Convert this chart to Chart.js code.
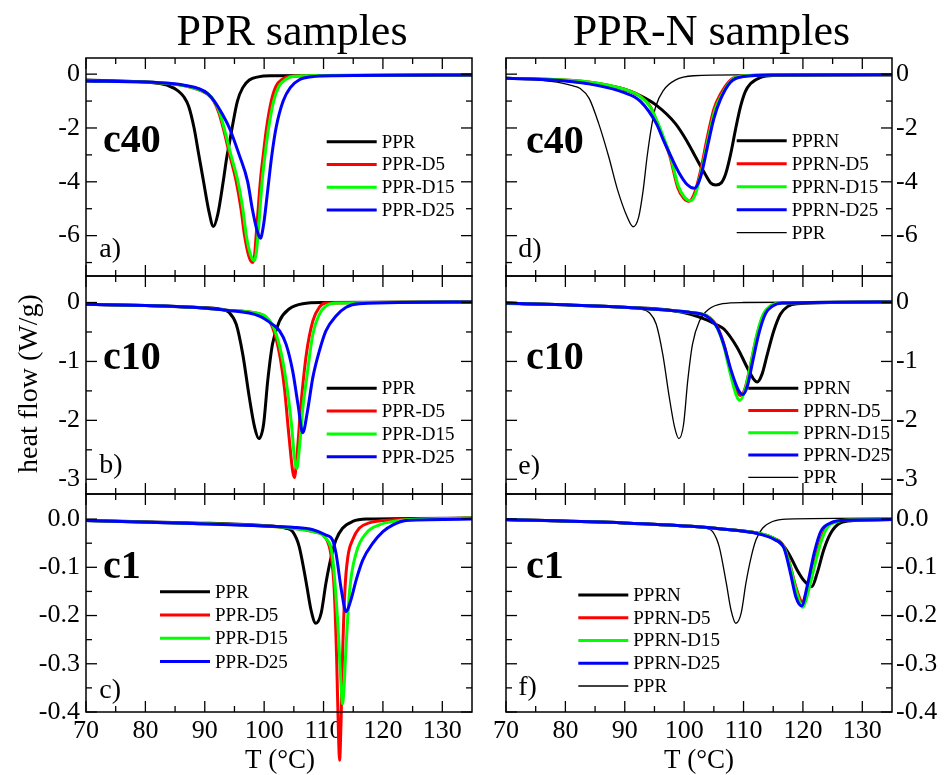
<!DOCTYPE html>
<html>
<head>
<meta charset="utf-8">
<script src="https://cdn.jsdelivr.net/npm/chart.js@4.4.0/dist/chart.umd.min.js"></script>
<style>
  body { margin: 0; background: #fff; }
  #wrap { position: relative; width: 948px; height: 775px; overflow: hidden; }
  #wrap canvas { position: absolute; left: 0; top: 0; }
</style>
</head>
<body>
<div id="wrap">
  <canvas id="pa" width="948" height="775"></canvas>
  <canvas id="pb" width="948" height="775"></canvas>
  <canvas id="pc" width="948" height="775"></canvas>
  <canvas id="pd" width="948" height="775"></canvas>
  <canvas id="pe" width="948" height="775"></canvas>
  <canvas id="pf" width="948" height="775"></canvas>
  <canvas id="txt" width="948" height="775"></canvas>
</div>
<script>
// ---- data (T in °C, heat flow in W/g) ----
const tempTicks = [70, 80, 90, 100, 110, 120, 130];
const tempMinor = [75, 85, 95, 105, 115, 125];

const c40Ticks = [0, -2, -4, -6];
const c40Minor = [-1, -3, -5, -7];
const c10Ticks = [0, -1, -2, -3];
const c10Minor = [-0.5, -1.5, -2.5];
const c1Ticks = [0, -0.1, -0.2, -0.3, -0.4];
const c1Minor = [-0.05, -0.15, -0.25, -0.35];

const pprLabels = ['PPR', 'PPR-D5', 'PPR-D15', 'PPR-D25'];
const pprnLabels = ['PPRN', 'PPRN-D5', 'PPRN-D15', 'PPRN-D25', 'PPR'];

// c40, PPR samples
const a_PPR = [[70,-0.22],[78,-0.27],[82,-0.34],[84,-0.44],[85.5,-0.62],[86.5,-0.85],[87.3,-1.2],[88.2,-2.0],[89,-3.0],[89.8,-4.0],[90.7,-5.1],[91.45,-5.66],[92.2,-5.2],[93.1,-4.0],[93.7,-3.1],[94.2,-2.5],[94.6,-2.0],[95.5,-1.0],[96.4,-0.5],[97.5,-0.22],[99,-0.1],[101,-0.06],[115,-0.05],[135,-0.03]];
const a_D5 = [[70,-0.25],[80,-0.29],[84,-0.35],[87,-0.45],[89,-0.58],[90.5,-0.75],[91.5,-1.0],[92.4,-1.45],[93.1,-2.0],[94.2,-3.0],[95.3,-4.0],[96.1,-5.0],[96.7,-6.0],[97.4,-6.75],[98.05,-7.0],[98.4,-6.7],[98.65,-6.0],[99.0,-5.0],[99.35,-4.0],[99.85,-3.0],[100.4,-2.0],[101.2,-1.0],[102,-0.45],[103,-0.2],[104.5,-0.08],[110,-0.05],[135,-0.03]];
const a_D15 = [[70,-0.25],[80,-0.29],[84,-0.35],[87,-0.45],[89,-0.57],[90.5,-0.73],[91.5,-0.97],[92.5,-1.42],[93.25,-2.0],[94.4,-3.0],[95.6,-4.0],[96.4,-5.0],[97.0,-6.0],[97.7,-6.7],[98.35,-6.93],[98.7,-6.6],[98.95,-6.0],[99.3,-5.0],[99.65,-4.0],[100.15,-3.0],[100.75,-2.0],[101.6,-1.0],[102.5,-0.45],[103.6,-0.2],[105,-0.08],[110,-0.05],[135,-0.03]];
const a_D25 = [[70,-0.25],[80,-0.29],[84,-0.34],[87,-0.43],[89,-0.54],[90.5,-0.72],[91.6,-1.0],[93,-1.5],[94.15,-2.0],[95.8,-3.0],[97.23,-4.0],[98.0,-5.0],[98.8,-5.8],[99.37,-6.1],[99.9,-5.6],[100.3,-4.9],[100.76,-4.0],[101.3,-3.0],[102,-2.0],[103.2,-1.0],[104.4,-0.5],[106,-0.2],[108,-0.1],[112,-0.06],[135,-0.03]];

// c40, PPR-N samples (thin PPR reference curve as drawn in panel d)
const d_PPRN = [[70,-0.15],[78.6,-0.22],[84.2,-0.35],[89.8,-0.55],[92.6,-0.8],[95.4,-1.17],[98.5,-1.83],[100.5,-2.5],[101.9,-3.07],[103.5,-3.7],[104.5,-4.05],[105.3,-4.12],[106.2,-4.05],[107,-3.7],[107.8,-3.0],[108.7,-2.0],[109.5,-1.2],[110.3,-0.65],[111.2,-0.35],[112.9,-0.12],[115,-0.05],[135,-0.02]];
const d_D5 = [[70,-0.15],[78,-0.2],[84.2,-0.3],[89.8,-0.55],[92.6,-0.82],[94.3,-1.2],[95.5,-1.83],[96.6,-2.45],[97.6,-3.05],[98.9,-4.2],[99.9,-4.6],[100.8,-4.72],[101.7,-4.45],[102.75,-3.6],[103.9,-2.35],[105,-1.3],[106.1,-0.75],[107.8,-0.22],[110,-0.06],[115,-0.03],[135,-0.02]];
const d_D15 = [[70,-0.15],[78,-0.2],[84.2,-0.3],[89.8,-0.55],[92.6,-0.83],[94.3,-1.22],[95.6,-1.83],[96.7,-2.45],[97.7,-3.05],[99.0,-4.15],[100.1,-4.58],[101.1,-4.7],[101.9,-4.45],[102.9,-3.6],[104.1,-2.35],[105.2,-1.32],[106.3,-0.78],[108.0,-0.22],[110.2,-0.06],[115,-0.03],[135,-0.02]];
const d_D25 = [[70,-0.15],[78,-0.22],[84.2,-0.37],[89.8,-0.68],[92.6,-1.0],[95.3,-1.83],[96.6,-2.5],[97.8,-3.07],[99.2,-3.69],[100.5,-4.1],[101.7,-4.24],[102.75,-3.83],[103.9,-2.72],[105,-1.65],[106.1,-0.95],[107.8,-0.3],[110,-0.09],[115,-0.03],[135,-0.02]];
const d_PPR = [[70,-0.15],[75,-0.2],[78.6,-0.3],[81,-0.42],[82.5,-0.53],[84,-0.9],[85.6,-1.83],[87.3,-3.07],[88.8,-4.31],[90.4,-5.3],[91.4,-5.67],[92.35,-5.3],[93.1,-4.31],[93.76,-3.07],[94.6,-1.83],[95.2,-1.21],[96.55,-0.59],[98.5,-0.22],[101.6,-0.06],[110,-0.03],[135,-0.02]];

// c10, PPR samples
const b_PPR = [[70,-0.03],[80,-0.05],[88,-0.08],[92.5,-0.11],[94.1,-0.17],[95.3,-0.37],[96.4,-0.88],[97.5,-1.61],[98.4,-2.12],[99.1,-2.31],[99.9,-2.07],[100.6,-1.33],[101.4,-0.71],[102.6,-0.31],[104.2,-0.11],[106.5,-0.02],[110,0],[135,0.01]];
const b_D5 = [[70,-0.03],[80,-0.05],[88,-0.08],[93.6,-0.13],[98.1,-0.17],[100.3,-0.25],[101.4,-0.42],[102.6,-0.88],[103.4,-1.44],[104.2,-2.29],[104.8,-2.86],[105.1,-2.97],[105.5,-2.63],[106.2,-1.73],[107.1,-0.88],[108.2,-0.31],[109.3,-0.08],[110.4,-0.01],[135,0.01]];
const b_D15 = [[70,-0.03],[80,-0.05],[88,-0.08],[93.6,-0.13],[98.1,-0.17],[100.3,-0.24],[101.4,-0.38],[102.6,-0.74],[103.7,-1.33],[104.6,-2.07],[105.1,-2.63],[105.5,-2.82],[105.9,-2.5],[106.5,-1.8],[107.1,-1.33],[108.2,-0.54],[109.3,-0.2],[110.4,-0.06],[112,-0.01],[135,0.01]];
const b_D25 = [[70,-0.03],[80,-0.05],[88,-0.08],[93.6,-0.13],[99.2,-0.23],[101.4,-0.37],[102.6,-0.48],[103.7,-0.71],[104.8,-1.16],[105.7,-1.73],[106.5,-2.21],[107.3,-1.84],[108.2,-1.27],[109.3,-0.82],[110.4,-0.48],[112.1,-0.23],[113.8,-0.08],[116,-0.02],[135,0.01]];

// c10, PPR-N samples
const e_PPRN = [[70,-0.01],[80,-0.04],[89.8,-0.08],[98.3,-0.14],[101.1,-0.2],[103.9,-0.3],[105.5,-0.38],[106.7,-0.45],[108.9,-0.76],[110.9,-1.16],[111.7,-1.3],[112.3,-1.35],[113.1,-1.22],[114,-0.88],[115.1,-0.48],[116.2,-0.2],[117.4,-0.07],[119,-0.02],[135,0.01]];
const e_D5 = [[70,-0.01],[80,-0.04],[89.8,-0.08],[98.3,-0.14],[101.1,-0.17],[103.9,-0.23],[105.6,-0.42],[106.7,-0.71],[107.8,-1.16],[108.9,-1.5],[109.5,-1.58],[110.3,-1.44],[111.2,-1.05],[112.3,-0.54],[113.4,-0.2],[114.6,-0.06],[116.2,-0.01],[135,0.01]];
const e_D15 = [[70,-0.01],[80,-0.04],[89.8,-0.08],[98.3,-0.14],[101.1,-0.17],[103.9,-0.23],[105.6,-0.44],[106.7,-0.75],[107.8,-1.22],[108.8,-1.58],[109.4,-1.66],[110.2,-1.5],[111.1,-1.1],[112.2,-0.56],[113.3,-0.2],[114.5,-0.06],[116.2,-0.01],[135,0.01]];
const e_D25 = [[70,-0.01],[80,-0.04],[89.8,-0.08],[98.3,-0.14],[101.1,-0.17],[103.9,-0.24],[105.6,-0.43],[106.7,-0.72],[107.9,-1.15],[109.1,-1.48],[109.9,-1.56],[110.7,-1.4],[111.5,-1.02],[112.6,-0.52],[113.7,-0.19],[114.9,-0.06],[116.5,-0.01],[135,0.01]];

// c1, PPR samples
const c_PPR = [[70,-0.003],[88,-0.008],[99.2,-0.013],[103.7,-0.019],[104.8,-0.026],[105.9,-0.057],[107.1,-0.133],[107.9,-0.189],[108.7,-0.216],[109.6,-0.195],[110.4,-0.133],[111.3,-0.078],[112.1,-0.043],[113.2,-0.019],[114.9,-0.005],[117.2,0],[135,0.002]];
const c_D5 = [[70,-0.003],[88,-0.009],[99.2,-0.014],[104.8,-0.019],[108.2,-0.026],[110.4,-0.04],[111.3,-0.078],[111.8,-0.147],[112.2,-0.286],[112.5,-0.438],[112.7,-0.5],[112.95,-0.42],[113.2,-0.286],[113.6,-0.147],[114.1,-0.078],[114.9,-0.043],[116,-0.019],[117.7,-0.008],[120,-0.003],[135,0.002]];
const c_D15 = [[70,-0.003],[88,-0.009],[99.2,-0.014],[104.8,-0.019],[108.2,-0.026],[110.4,-0.04],[111.5,-0.078],[112.4,-0.216],[113.0,-0.355],[113.2,-0.383],[113.45,-0.35],[113.7,-0.286],[114.4,-0.147],[115.5,-0.07],[117.2,-0.029],[119.4,-0.012],[121.7,-0.005],[124.5,-0.001],[135,0.002]];
const c_D25 = [[70,-0.003],[88,-0.009],[99.2,-0.014],[104.8,-0.017],[108.2,-0.022],[110.4,-0.033],[111.5,-0.043],[112.1,-0.071],[113,-0.147],[113.8,-0.192],[114.6,-0.168],[115.5,-0.126],[116.6,-0.085],[118.3,-0.05],[120,-0.026],[121.7,-0.012],[123.9,-0.003],[135,0]];

// c1, PPR-N samples
const f_PPRN = [[70,-0.001],[89.8,-0.008],[101.1,-0.015],[106.7,-0.021],[112.3,-0.029],[115.1,-0.04],[116.8,-0.057],[117.9,-0.078],[119,-0.105],[120.2,-0.128],[121.5,-0.14],[122.4,-0.112],[123.5,-0.064],[124.7,-0.029],[126.3,-0.008],[128.6,-0.003],[135,-0.001]];
const f_D5 = [[70,-0.001],[89.8,-0.008],[101.1,-0.015],[106.7,-0.021],[112.3,-0.029],[115.1,-0.04],[116.8,-0.057],[117.9,-0.098],[118.8,-0.14],[119.9,-0.171],[120.7,-0.147],[121.9,-0.092],[123,-0.043],[124.1,-0.015],[125.8,-0.005],[128,-0.002],[135,-0.001]];
const f_D15 = [[70,-0.001],[89.8,-0.008],[101.1,-0.015],[106.7,-0.021],[112.3,-0.029],[115.1,-0.04],[116.8,-0.058],[117.9,-0.1],[118.9,-0.15],[120.0,-0.183],[120.8,-0.155],[122.0,-0.095],[123.1,-0.045],[124.2,-0.016],[125.9,-0.005],[128,-0.002],[135,-0.001]];
const f_D25 = [[70,-0.001],[89.8,-0.008],[101.1,-0.015],[106.7,-0.021],[112.3,-0.03],[115.1,-0.042],[116.8,-0.06],[117.9,-0.112],[118.8,-0.161],[119.8,-0.18],[120.7,-0.14],[121.9,-0.07],[123,-0.026],[124.7,-0.008],[126.5,-0.003],[135,-0.001]];

// ---- layout ----
const W = 948, H = 775, PW = 386, PH = 218;
const colX = [86, 506];
const rowY = [58, 276, 494];
const SERIF = "'Liberation Serif', 'Times New Roman', serif";
const COLORS = ['#000000', '#ff0000', '#00ff00', '#0000ff', '#000000'];
const WIDTHS = [3, 3, 3, 3, 1.3];
const ORDERS = [4, 3, 2, 1, 5];

Chart.defaults.font.family = SERIF;
Chart.defaults.color = '#000';

const panelDeco = {
  id: 'panelDeco',
  afterDatasetsDraw(chart, args, o) {
    const { ctx, chartArea: a, scales: { x, y } } = chart;
    ctx.save();
    ctx.strokeStyle = '#000';
    ctx.lineWidth = 1.5;
    ctx.strokeRect(a.left, a.top, a.right - a.left, a.bottom - a.top);

    const seg = (x1, y1, x2, y2) => { ctx.beginPath(); ctx.moveTo(x1, y1); ctx.lineTo(x2, y2); ctx.stroke(); };
    ctx.lineWidth = 1.3;
    tempTicks.forEach(v => { const p = x.getPixelForValue(v); seg(p, a.bottom, p, a.bottom - 11); seg(p, a.top, p, a.top + 11); });
    tempMinor.forEach(v => { const p = x.getPixelForValue(v); seg(p, a.bottom, p, a.bottom - 6); seg(p, a.top, p, a.top + 6); });
    o.major.forEach(v => { const p = y.getPixelForValue(v); seg(a.left, p, a.left + 11, p); seg(a.right, p, a.right - 11, p); });
    o.minor.forEach(v => { const p = y.getPixelForValue(v); seg(a.left, p, a.left + 6, p); seg(a.right, p, a.right - 6, p); });

    ctx.fillStyle = '#000';
    ctx.textAlign = 'left';
    ctx.textBaseline = 'alphabetic';
    ctx.font = 'bold 40px ' + SERIF;
    ctx.fillText(o.tag, a.left + o.tagPos[0], a.top + o.tagPos[1]);
    ctx.font = '28px ' + SERIF;
    ctx.fillText(o.letter, a.left + o.letPos[0], a.top + o.letPos[1]);

    // legend
    const [lx, ly, dy] = o.leg;
    ctx.font = '19px ' + SERIF;
    ctx.textBaseline = 'middle';
    chart.data.datasets.forEach((ds, i) => {
      const yy = a.top + ly + i * dy;
      ctx.strokeStyle = ds.borderColor;
      ctx.lineWidth = ds.borderWidth;
      seg(a.left + lx, yy, a.left + lx + 50, yy);
      ctx.fillText(ds.label, a.left + lx + 55, yy + 1);
    });
    ctx.restore();
  }
};

function makePanel(p) {
  const left = colX[p.col], top = rowY[p.row];
  // axis boxes take the whole margin so that their labels are not clipped
  const yBox = p.col === 0 ? left : W - left - PW;
  const xBox = p.row === 2 ? H - top - PH : 0;
  return new Chart(document.getElementById(p.id), {
    type: 'line',
    data: {
      datasets: p.series.map((s, i) => ({
        label: p.labels[i],
        data: s.map(([t, q]) => ({ x: t, y: q })),
        borderColor: COLORS[i],
        borderWidth: WIDTHS[i],
        order: ORDERS[i],
        pointRadius: 0,
        fill: false,
        cubicInterpolationMode: 'monotone',
        clip: p.row === 2 ? false : 0
      }))
    },
    options: {
      responsive: false,
      animation: false,
      devicePixelRatio: 1,
      layout: {
        padding: {
          left: p.col === 0 ? 0 : left,
          right: p.col === 0 ? W - left - PW : 0,
          top: top,
          bottom: H - top - PH - xBox
        }
      },
      scales: {
        x: {
          type: 'linear', min: 70, max: 135,
          afterBuildTicks: s => { s.ticks = tempTicks.map(v => ({ value: v })); },
          afterFit: s => { s.height = xBox; },
          grid: { display: false, drawTicks: false },
          border: { display: false },
          ticks: { display: p.row === 2, font: { size: 26 }, color: '#000', padding: 4, maxRotation: 0, autoSkip: false }
        },
        y: {
          type: 'linear', position: p.col === 0 ? 'left' : 'right',
          min: p.yMin, max: p.yMax,
          afterBuildTicks: s => { s.ticks = p.major.map(v => ({ value: v })); },
          afterFit: s => { s.width = yBox; },
          grid: { display: false, drawTicks: false },
          border: { display: false },
          ticks: { font: { size: 26 }, color: '#000', padding: p.col === 0 ? 6 : 4, callback: p.fmt, autoSkip: false }
        }
      },
      plugins: {
        legend: { display: false },
        tooltip: { enabled: false },
        panelDeco: { major: p.major, minor: p.minor, tag: p.tag, letter: p.letter, tagPos: p.tagPos, letPos: p.letPos, leg: p.leg }
      }
    },
    plugins: [panelDeco]
  });
}

const fmtInt = v => String(v);
const fmtDec = v => v.toFixed(1);

const panels = [
  { id: 'pa', col: 0, row: 0, series: [a_PPR, a_D5, a_D15, a_D25], labels: pprLabels, tag: 'c40', letter: 'a)',
    yMin: -7.5, yMax: 0.6, major: c40Ticks, minor: c40Minor, fmt: fmtInt, leg: [240.7, 83.7, 22.8], tagPos: [17, 93.7], letPos: [13.3, 198.7] },
  { id: 'pb', col: 0, row: 1, series: [b_PPR, b_D5, b_D15, b_D25], labels: pprLabels, tag: 'c10', letter: 'b)',
    yMin: -3.25, yMax: 0.45, major: c10Ticks, minor: c10Minor, fmt: fmtInt, leg: [240.7, 112.3, 22.8], tagPos: [17, 93.3], letPos: [13.3, 197.3] },
  { id: 'pc', col: 0, row: 2, series: [c_PPR, c_D5, c_D15, c_D25], labels: pprLabels, tag: 'c1', letter: 'c)',
    yMin: -0.4, yMax: 0.052, major: c1Ticks, minor: c1Minor, fmt: fmtDec, leg: [74, 97.7, 23.3], tagPos: [17, 84.3], letPos: [13.3, 204] },
  { id: 'pd', col: 1, row: 0, series: [d_PPRN, d_D5, d_D15, d_D25, d_PPR], labels: pprnLabels, tag: 'c40', letter: 'd)',
    yMin: -7.5, yMax: 0.6, major: c40Ticks, minor: c40Minor, fmt: fmtInt, leg: [230.7, 82.7, 23], tagPos: [20, 95], letPos: [12.3, 198.7] },
  { id: 'pe', col: 1, row: 1, series: [e_PPRN, e_D5, e_D15, e_D25, b_PPR], labels: pprnLabels, tag: 'c10', letter: 'e)',
    yMin: -3.25, yMax: 0.45, major: c10Ticks, minor: c10Minor, fmt: fmtInt, leg: [242.3, 112.3, 22.25], tagPos: [20, 93.3], letPos: [12.3, 198] },
  { id: 'pf', col: 1, row: 2, series: [f_PPRN, f_D5, f_D15, f_D25, c_PPR], labels: pprnLabels, tag: 'c1', letter: 'f)',
    yMin: -0.4, yMax: 0.052, major: c1Ticks, minor: c1Minor, fmt: fmtDec, leg: [72.3, 101, 22.75], tagPos: [20, 84.3], letPos: [12.3, 201] }
];
panels.forEach(makePanel);

// page titles and axis titles
const tctx = document.getElementById('txt').getContext('2d');
tctx.fillStyle = '#000';
tctx.textAlign = 'center';
tctx.textBaseline = 'alphabetic';
tctx.font = '44px ' + SERIF;
tctx.fillText('PPR samples', 292, 45);
tctx.fillText('PPR-N samples', 711.5, 45);
tctx.font = '27px ' + SERIF;
tctx.fillText('T (°C)', 280, 768);
tctx.fillText('T (°C)', 699, 768);
tctx.save();
tctx.translate(30, 383.5);
tctx.rotate(-Math.PI / 2);
tctx.textBaseline = 'middle';
tctx.font = '28px ' + SERIF;
tctx.fillText('heat flow (W/g)', 0, 0);
tctx.restore();
</script>
</body>
</html>
